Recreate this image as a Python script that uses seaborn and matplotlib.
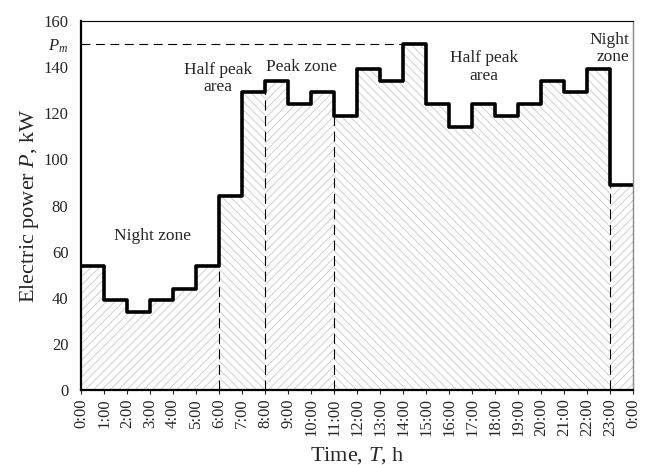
import numpy as np
import pandas as pd
import matplotlib
matplotlib.use('Agg')
import matplotlib.pyplot as plt
import seaborn as sns

hours = list(range(24))
power = [54, 39, 34, 39, 44, 54, 84, 129, 134, 124, 129, 119,
         139, 134, 150, 124, 114, 124, 119, 124, 134, 129, 139, 89]
p_max = 150
tick_labels = [f'{h}:00' for h in range(24)] + ['0:00']
zones = [(0, 6, '////'), (6, 8, '\\\\\\\\'), (8, 11, '////'),
         (11, 23, '\\\\\\\\'), (23, 24, '////')]
zone_lines = [6, 8, 11, 23]

sns.set_style('white')
plt.rcParams['font.family'] = ['Liberation Serif', 'DejaVu Serif']
plt.rcParams['mathtext.fontset'] = 'custom'
plt.rcParams['mathtext.rm'] = 'Liberation Serif'
plt.rcParams['mathtext.it'] = 'Liberation Serif:italic'
plt.rcParams['hatch.color'] = '#c8c8c8'
plt.rcParams['hatch.linewidth'] = 0.6

df = pd.DataFrame({'T': hours + [24], 'P': power + [power[-1]]})

fig = plt.figure(figsize=(6.5, 4.65), dpi=100)
ax = fig.add_axes([0.1246, 0.161, 0.8494, 0.794])

x = np.array(df['T'])
y = np.array(df['P'])
for a, b, h in zones:
    m = (x >= a) & (x <= b)
    ax.fill_between(x[m], y[m], step='post', facecolor='white',
                    hatch=h, edgecolor='#c8c8c8', linewidth=0)

for v in zone_lines:
    ax.plot([v, v], [0, power[v]], color='black', lw=0.8, ls=(0, (9, 5)))
ax.plot([0, 14], [p_max, p_max], color='black', lw=0.8, ls=(0, (8, 5)))

sns.lineplot(data=df, x='T', y='P', drawstyle='steps-post', color='black',
             lw=2.6, ax=ax)

ax.set_xlim(0, 24)
ax.set_ylim(0, 160)
ax.set_xticks(range(25))
ax.set_xticklabels(tick_labels, rotation=90, fontsize=12)
yt = [0, 20, 40, 60, 80, 100, 120, 140, p_max, 160]
ax.set_yticks(yt)
ax.set_yticklabels([str(v) if v != p_max else '$P_m$' for v in yt], fontsize=12)
ax.tick_params(axis='y', length=0, pad=9)
ax.tick_params(axis='x', length=3, pad=3, direction='out', bottom=True)
ax.set_xlabel('Time, $T$, h', fontsize=16, labelpad=6)
ax.set_ylabel('Electric power $P$, kW', fontsize=16, labelpad=2)

for side in ['left', 'bottom']:
    ax.spines[side].set_linewidth(1.6)
    ax.spines[side].set_color('black')
ax.spines['top'].set_linewidth(0.8)
ax.spines['top'].set_color('black')
ax.spines['right'].set_linewidth(1.0)
ax.spines['right'].set_color('#888888')

ax.text(3.1, 67, 'Night zone', ha='center', va='center', fontsize=12.5)
ax.text(5.96, 135, 'Half peak\narea', ha='center', va='center', fontsize=12.5, linespacing=1.1)
ax.text(9.6, 140, 'Peak zone', ha='center', va='center', fontsize=12.5)
ax.text(17.5, 140, 'Half peak\narea', ha='center', va='center', fontsize=12.5, linespacing=1.1)
ax.text(23.85, 148, 'Night\nzone', ha='right', va='center', fontsize=12.5, linespacing=1.1)

fig.savefig('out.png', dpi=100)
